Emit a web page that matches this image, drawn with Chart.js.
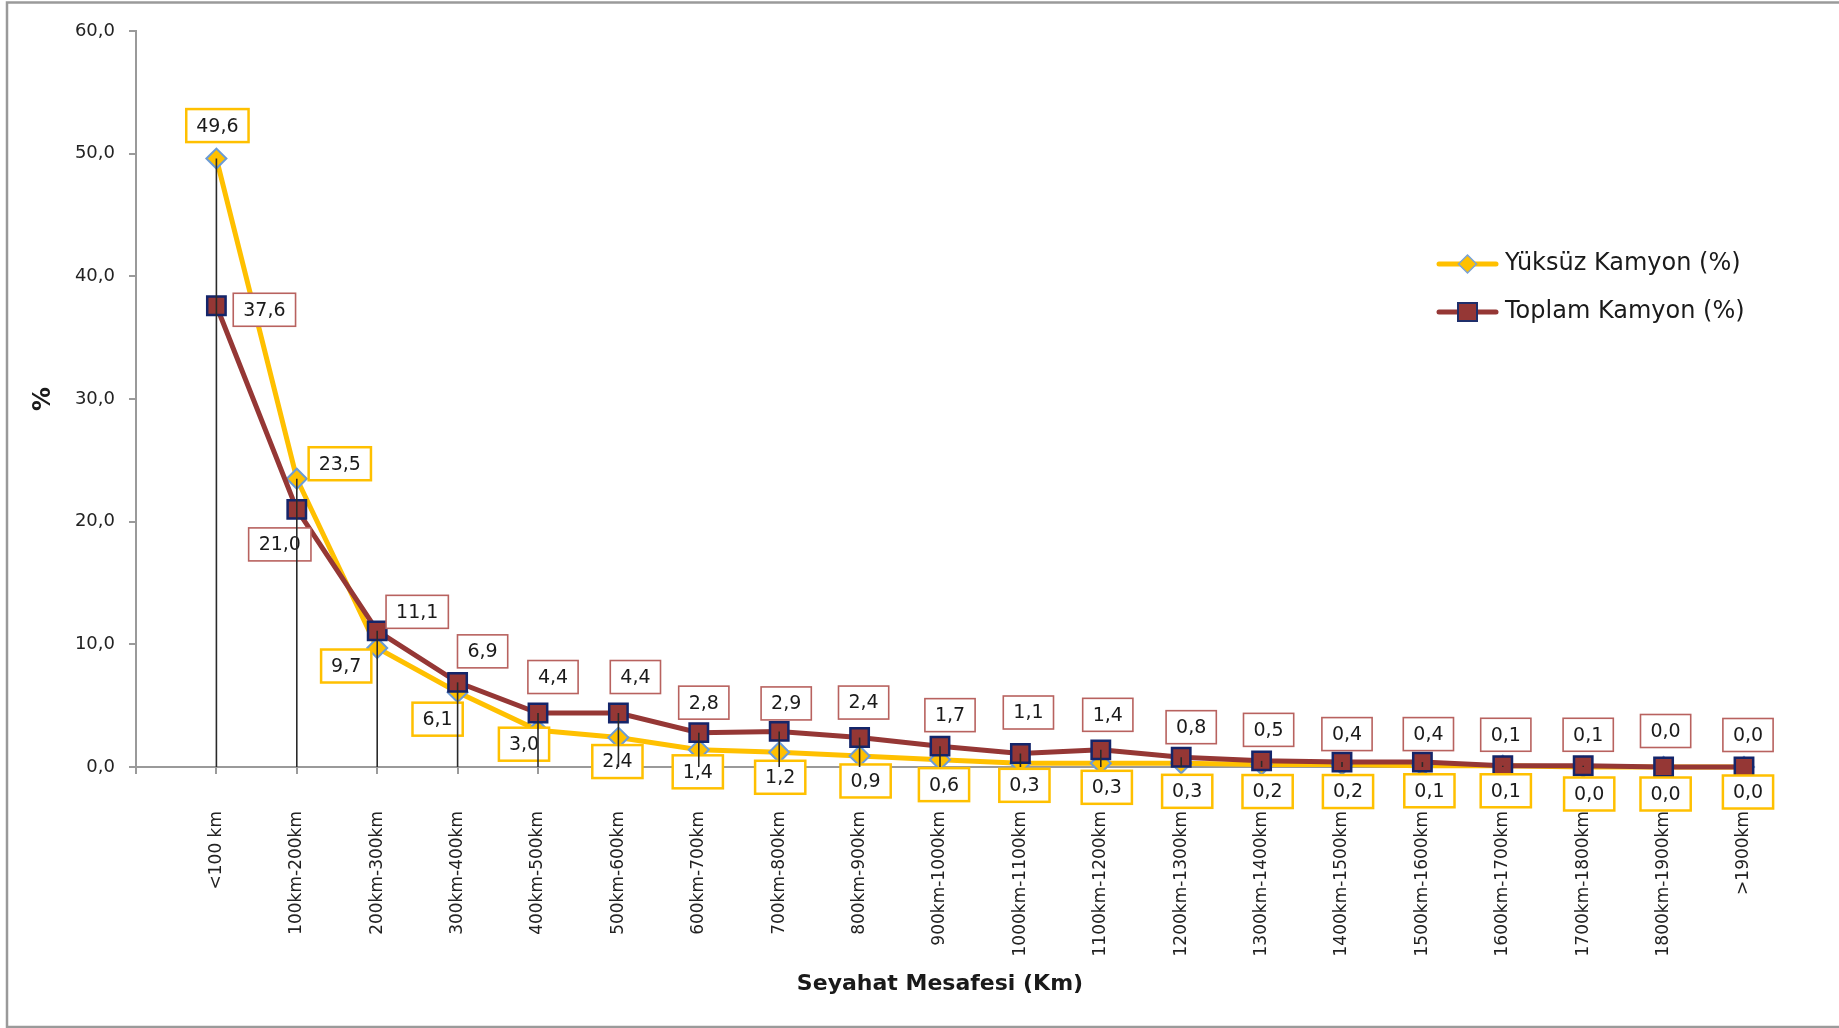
<!DOCTYPE html>
<html>
<head>
<meta charset="utf-8">
<script src="https://cdn.jsdelivr.net/npm/chart.js@4.4.1/dist/chart.umd.min.js"></script>
<style>
html,body{margin:0;padding:0;background:#fff;overflow:hidden;}
#wrap{position:relative;width:1839px;height:1028px;}
</style>
</head>
<body>
<div id="wrap"><canvas id="c"></canvas></div>
<script>
// ---- data ----
const categories = ['<100 km','100km-200km','200km-300km','300km-400km','400km-500km','500km-600km',
  '600km-700km','700km-800km','800km-900km','900km-1000km','1000km-1100km','1100km-1200km',
  '1200km-1300km','1300km-1400km','1400km-1500km','1500km-1600km','1600km-1700km','1700km-1800km',
  '1800km-1900km','>1900km'];
const yuksuzKamyon = [49.6,23.5,9.7,6.1,3.0,2.4,1.4,1.2,0.9,0.6,0.3,0.3,0.3,0.2,0.2,0.1,0.1,0.0,0.0,0.0];
const toplamKamyon = [37.6,21.0,11.1,6.9,4.4,4.4,2.8,2.9,2.4,1.7,1.1,1.4,0.8,0.5,0.4,0.4,0.1,0.1,0.0,0.0];
const yTicks = [0,10,20,30,40,50,60];
const seriesNames = ['Yüksüz Kamyon (%)','Toplam Kamyon (%)'];
const xTitle = 'Seyahat Mesafesi (Km)';
const yTitle = '%';

const fmt = v => Number(v).toFixed(1).replace('.', ',');
const FONT = 'DejaVu Sans';

// legend icons (line + marker)
function legendIcon(kind){
  const c = document.createElement('canvas'); c.width = 63; c.height = 24;
  const g = c.getContext('2d');
  g.lineCap = 'round'; g.lineWidth = 5;
  g.strokeStyle = kind === 0 ? '#FFC000' : '#953735';
  g.beginPath(); g.moveTo(3,12); g.lineTo(60,12); g.stroke();
  if (kind === 0) {
    g.beginPath(); g.moveTo(31.5,3); g.lineTo(40.5,12); g.lineTo(31.5,21); g.lineTo(22.5,12); g.closePath();
    g.fillStyle = '#FFC000'; g.fill(); g.lineWidth = 1.5; g.strokeStyle = '#7BA3D6'; g.stroke();
  } else {
    g.fillStyle = '#953735'; g.fillRect(22,3,19,18);
    g.lineWidth = 2; g.strokeStyle = '#1F2F6B'; g.strokeRect(22,3,19,18);
  }
  return c;
}
const icons = [legendIcon(0), legendIcon(1)];

const frame = {
  id: 'frame',
  beforeDraw(chart){
    const ctx = chart.ctx;
    ctx.save();
    ctx.fillStyle = '#fff'; ctx.fillRect(0,0,chart.width,chart.height);
    ctx.strokeStyle = '#9a9a9a'; ctx.lineWidth = 2.5;
    ctx.strokeRect(7, 2.5, chart.width + 20, chart.height - 3.5);
    ctx.restore();
    const lg = chart.legend;
    if (lg) {
      lg.left = chart.chartArea.right - 326; lg.top = chart.chartArea.top + 197;
      lg.width = 420; lg.height = 200;
      lg.right = lg.left + lg.width; lg.bottom = lg.top + lg.height;
    }
  }
};

const valueLabels = {
  id: 'valueLabels',
  afterDatasetsDraw(chart, args, opts){
    const ctx = chart.ctx;
    ctx.save();
    ctx.font = opts.size + 'px "' + FONT + '"';
    ctx.textAlign = 'center'; ctx.textBaseline = 'middle';
    chart.data.datasets.forEach((ds, d) => {
      const meta = chart.getDatasetMeta(d);
      meta.data.forEach((pt, i) => {
        const off = opts.offsets[d][i];
        const txt = fmt(ds.data[i].y);
        const w = ctx.measureText(txt).width + 2 * opts.padX;
        const h = opts.boxH;
        const cx = pt.x + off[0], cy = pt.y + off[1];
        ctx.fillStyle = '#fff';
        ctx.fillRect(cx - w/2, cy - h/2, w, h);
        ctx.lineWidth = opts.borderWidth[d]; ctx.strokeStyle = opts.borderColor[d];
        ctx.strokeRect(cx - w/2, cy - h/2, w, h);
        ctx.fillStyle = '#1a1a1a';
        ctx.fillText(txt, cx, cy + 1);
      });
    });
    ctx.restore();
  }
};

const dropLines = {
  id: 'dropLines',
  afterDatasetsDraw(chart){
    const ctx = chart.ctx;
    const metas = chart.data.datasets.map((d, k) => chart.getDatasetMeta(k));
    const base = chart.scales.y.getPixelForValue(0);
    ctx.save();
    ctx.strokeStyle = '#2a2a2a'; ctx.lineWidth = 1.6;
    metas[0].data.forEach((pt, i) => {
      const top = Math.min(...metas.map(m => m.data[i].y));
      if (base - top > 1) {
        ctx.beginPath(); ctx.moveTo(pt.x, top); ctx.lineTo(pt.x, base); ctx.stroke();
      }
    });
    ctx.restore();
  }
};

new Chart(document.getElementById('c'), {
  type: 'line',
  data: {
    datasets: [
      {
        label: seriesNames[0],
        data: categories.map((c, i) => ({x: i, y: yuksuzKamyon[i]})),
        borderColor: '#FFC000', backgroundColor: '#FFC000', borderWidth: 5,
        pointStyle: 'rectRot', pointRadius: 10,
        pointBackgroundColor: '#FFC000', pointBorderColor: '#6B9BD6', pointBorderWidth: 2,
        tension: 0, clip: false, order: 2
      },
      {
        label: seriesNames[1],
        data: categories.map((c, i) => ({x: i, y: toplamKamyon[i]})),
        borderColor: '#953735', backgroundColor: '#953735', borderWidth: 5,
        pointStyle: 'rect', pointRadius: 13,
        pointBackgroundColor: '#953735', pointBorderColor: '#14256A', pointBorderWidth: 2.5,
        tension: 0, clip: false, order: 1
      }
    ]
  },
  options: {
    responsive: true, maintainAspectRatio: false, animation: false,
    layout: { padding: { top: 31, right: 95, bottom: 0, left: 0 } },
    scales: {
      x: {
        type: 'linear', min: -1, max: 19, offset: false,
        afterBuildTicks: s => { s.ticks = [-1].concat(categories.map((c, i) => i)).map(v => ({value: v})); },
        ticks: {
          autoSkip: false, minRotation: 90, maxRotation: 90, padding: 37, color: '#222',
          font: { family: FONT, size: 17 },
          callback: v => (v >= 0 ? categories[v] : '')
        },
        grid: { display: true, drawOnChartArea: false, drawTicks: true, tickLength: 7, color: '#9a9a9a', lineWidth: 2 },
        border: { display: true, color: '#9a9a9a', width: 2 },
        title: { display: true, text: xTitle, color: '#1a1a1a', font: { family: FONT, size: 22, weight: 'bold' }, padding: { top: 0, bottom: 31 } },
        afterFit: s => { s.height = 261; }
      },
      y: {
        type: 'linear', min: 0, max: 60,
        afterBuildTicks: s => { s.ticks = yTicks.map(v => ({value: v})); },
        ticks: { color: '#222', font: { family: FONT, size: 18 }, padding: 14, callback: v => fmt(v) },
        grid: { display: true, drawOnChartArea: false, drawTicks: true, tickLength: 7, color: '#9a9a9a', lineWidth: 2 },
        border: { display: true, color: '#9a9a9a', width: 2 },
        title: { display: true, text: yTitle, color: '#1a1a1a', font: { family: FONT, size: 24, weight: 'bold' }, padding: { top: 29, bottom: 0 } },
        afterFit: s => { s.width = 136; }
      }
    },
    plugins: {
      tooltip: { enabled: false },
      legend: {
        display: true, position: 'chartArea', align: 'start',
        labels: {
          usePointStyle: true, pointStyleWidth: 51, padding: 24, color: '#1a1a1a',
          font: { family: FONT, size: 24 },
          generateLabels(chart){
            const items = Chart.defaults.plugins.legend.labels.generateLabels(chart);
            items.sort((a, b) => a.datasetIndex - b.datasetIndex);
            items.forEach(it => { it.pointStyle = icons[it.datasetIndex]; it.rotation = 0; });
            return items;
          }
        }
      },
      valueLabels: {
        size: 19, padX: 10, boxH: 33,
        borderColor: ['#FFC000', '#B8625F'], borderWidth: [2.5, 1.6],
        offsets: [
          [[1,-33],[43,-15],[-31,18],[-20,27],[-14,14],[-1,24],[-1,22],[1,25],[6,25],[4,25],
           [4,22],[6,24],[6,28],[6,27],[6,27],[7,25],[3,25],[6,27],[2,27],[4,25]],
          [[48,4],[-17,35],[40,-19],[25,-31],[15,-36],[17,-36],[5,-30],[7,-28],[4,-35],[10,-31],
           [8,-41],[7,-35],[10,-30],[7,-31],[5,-28],[6,-28],[3,-31],[5,-31],[2,-36],[4,-32]]
        ]
      }
    }
  },
  plugins: [frame, valueLabels, dropLines]
});
</script>
</body>
</html>
